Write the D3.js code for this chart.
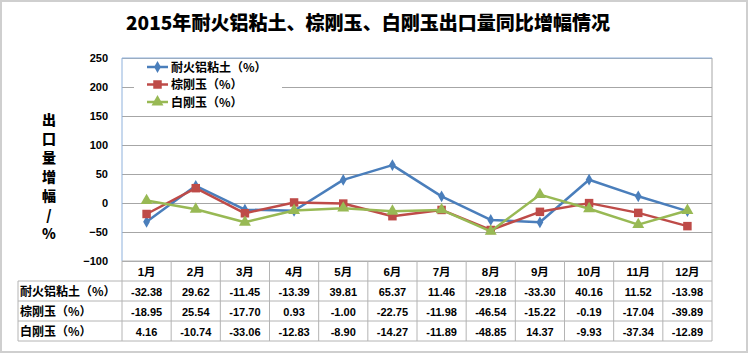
<!DOCTYPE html>
<html>
<head>
<meta charset="utf-8">
<script src="https://cdn.jsdelivr.net/npm/d3@7"></script>
<style>
  body { margin: 0; background: #fff; }
  svg { display: block; font-family: "Liberation Sans", Arial, "Noto Sans CJK SC", sans-serif; }
</style>
</head>
<body>
<svg id="chart"></svg>
<script>
// data
const months = ["1月","2月","3月","4月","5月","6月","7月","8月","9月","10月","11月","12月"];
const seriesNames = ["耐火铝粘土（%）", "棕刚玉（%）", "白刚玉（%）"];
const bauxite = [-32.38, 29.62, -11.45, -13.39, 39.81, 65.37, 11.46, -29.18, -33.30, 40.16, 11.52, -13.98];
const brownFused = [-18.95, 25.54, -17.70, 0.93, -1.00, -22.75, -11.98, -46.54, -15.22, -0.19, -17.04, -39.89];
const whiteFused = [4.16, -10.74, -33.06, -12.83, -8.90, -14.27, -11.89, -48.85, 14.37, -9.93, -37.34, -12.89];
const yTicks = [-100, -50, 0, 50, 100, 150, 200, 250];

const W = 750, H = 354;
const plot = { left: 122, right: 712, top: 58, bottom: 261 };
const rowH = 20;
const labelX = 18;

const svg = d3.select('#chart').attr('width', W).attr('height', H);

// outer frame
svg.append('rect')
  .attr('x', 1).attr('y', 1).attr('width', W - 4).attr('height', H - 3)
  .attr('fill', '#fff').attr('stroke', '#cfcfcf').attr('stroke-width', 2);

// title
svg.append('text')
  .attr('x', 368).attr('y', 30)
  .attr('text-anchor', 'middle')
  .attr('font-family', '"Noto Sans CJK SC", sans-serif')
  .attr('font-weight', 900).attr('font-size', 19)
  .attr('textLength', 484).attr('lengthAdjust', 'spacingAndGlyphs')
  .text('2015年耐火铝粘土、棕刚玉、白刚玉出口量同比增幅情况');

// scales
const x = d3.scaleBand().domain(months).range([plot.left, plot.right]);
const y = d3.scaleLinear().domain([-100, 250]).range([plot.bottom, plot.top]);

// gridlines
svg.append('g')
  .attr('transform', `translate(${plot.left},0)`)
  .call(d3.axisLeft(y).tickValues(yTicks).tickSize(-(plot.right - plot.left)).tickFormat(''))
  .call(g => g.select('.domain').remove())
  .call(g => g.selectAll('line').attr('stroke', '#a6a6a6'));

// y tick labels
svg.append('g')
  .attr('transform', `translate(${plot.left - 14},0)`)
  .call(d3.axisLeft(y).tickValues(yTicks).tickSize(0).tickPadding(0))
  .call(g => g.select('.domain').remove())
  .call(g => g.selectAll('text')
    .attr('font-size', 11).attr('font-weight', 'bold').attr('fill', '#000')
    .attr('font-family', '"Liberation Sans", Arial, sans-serif'));

// plot frame
svg.append('line').attr('x1', plot.right).attr('x2', plot.right)
  .attr('y1', plot.top).attr('y2', plot.bottom).attr('stroke', '#a6a6a6');
svg.append('line').attr('x1', plot.left).attr('x2', plot.right)
  .attr('y1', plot.top).attr('y2', plot.top).attr('stroke', '#8eb1dc');
svg.append('line').attr('x1', plot.left).attr('x2', plot.left)
  .attr('y1', plot.top).attr('y2', plot.bottom).attr('stroke', '#8eb1dc');

// y axis title, stacked characters
const yTitle = ['出', '口', '量', '增', '幅', '/', '%'];
svg.append('g').selectAll('text')
  .data(yTitle).enter().append('text')
  .attr('x', 49).attr('y', (d, i) => 125 + i * 19)
  .attr('text-anchor', 'middle')
  .attr('font-size', 14).attr('font-weight', 900)
  .attr('font-family', '"Noto Sans CJK SC", sans-serif')
  .text(d => d);

// series
const series = [
  { name: seriesNames[0], values: bauxite, color: '#4a7ebb', shape: d3.symbolDiamond, size: 40 },
  { name: seriesNames[1], values: brownFused, color: '#be4b48', shape: d3.symbolSquare, size: 72 },
  { name: seriesNames[2], values: whiteFused, color: '#98b954', shape: d3.symbolTriangle, size: 62 }
];

const line = d3.line()
  .x((d, i) => x(months[i]) + x.bandwidth() / 2)
  .y(d => y(d));

series.forEach(s => {
  svg.append('path')
    .datum(s.values)
    .attr('d', line)
    .attr('fill', 'none')
    .attr('stroke', s.color)
    .attr('stroke-width', 2.5)
    .attr('stroke-linejoin', 'round');
  svg.append('g').selectAll('path')
    .data(s.values).enter().append('path')
    .attr('transform', (d, i) => `translate(${x(months[i]) + x.bandwidth() / 2},${y(d)})`)
    .attr('d', d3.symbol().type(s.shape).size(s.size))
    .attr('fill', s.color);
});

// legend
const legend = svg.append('g');
legend.append('rect')
  .attr('x', 134).attr('y', plot.top + 1).attr('width', 148).attr('height', 52)
  .attr('fill', '#fff');
series.forEach((s, i) => {
  const ly = 67 + i * 17.5;
  legend.append('line')
    .attr('x1', 147).attr('x2', 168).attr('y1', ly).attr('y2', ly)
    .attr('stroke', s.color).attr('stroke-width', 2.5);
  legend.append('path')
    .attr('transform', `translate(157.5,${ly})`)
    .attr('d', d3.symbol().type(s.shape).size(s.size))
    .attr('fill', s.color);
  legend.append('text')
    .attr('x', 171).attr('y', ly + 4.5)
    .attr('font-size', 12).attr('font-weight', 'bold')
    .attr('font-family', '"Noto Sans CJK SC", sans-serif')
    .text(s.name);
});

// data table
const table = svg.append('g');
const gridColor = '#b4b4b4';
const tTop = plot.bottom;
// header row
table.append('line').attr('x1', plot.left).attr('x2', plot.right)
  .attr('y1', tTop).attr('y2', tTop).attr('stroke', gridColor);
table.selectAll('.hdr')
  .data(months).enter().append('text')
  .attr('x', d => x(d) + x.bandwidth() / 2).attr('y', tTop + 14.5)
  .attr('text-anchor', 'middle')
  .attr('font-size', 11.5).attr('font-weight', 'bold')
  .attr('font-family', '"Liberation Sans", Arial, "Noto Sans CJK SC", sans-serif')
  .text(d => d);

// horizontal row lines
for (let r = 1; r <= 4; r++) {
  table.append('line')
    .attr('x1', labelX).attr('x2', plot.right)
    .attr('y1', tTop + r * rowH).attr('y2', tTop + r * rowH)
    .attr('stroke', gridColor);
}
// vertical lines
table.append('line').attr('x1', labelX).attr('x2', labelX)
  .attr('y1', tTop + rowH).attr('y2', tTop + 4 * rowH).attr('stroke', gridColor);
months.forEach(m => {
  table.append('line').attr('x1', x(m)).attr('x2', x(m))
    .attr('y1', tTop).attr('y2', tTop + 4 * rowH).attr('stroke', gridColor);
});
table.append('line').attr('x1', plot.right).attr('x2', plot.right)
  .attr('y1', tTop).attr('y2', tTop + 4 * rowH).attr('stroke', gridColor);

series.forEach((s, r) => {
  const ty = tTop + (r + 1) * rowH + 14.5;
  table.append('text')
    .attr('x', labelX + 2).attr('y', ty)
    .attr('font-size', 12).attr('font-weight', 'bold')
    .attr('font-family', '"Noto Sans CJK SC", sans-serif')
    .text(s.name);
  table.append('g').selectAll('text')
    .data(s.values).enter().append('text')
    .attr('x', (d, i) => x(months[i]) + x.bandwidth() / 2).attr('y', ty)
    .attr('text-anchor', 'middle')
    .attr('font-size', 11).attr('font-weight', 'bold')
    .text(d => d.toFixed(2));
});
</script>
</body>
</html>
